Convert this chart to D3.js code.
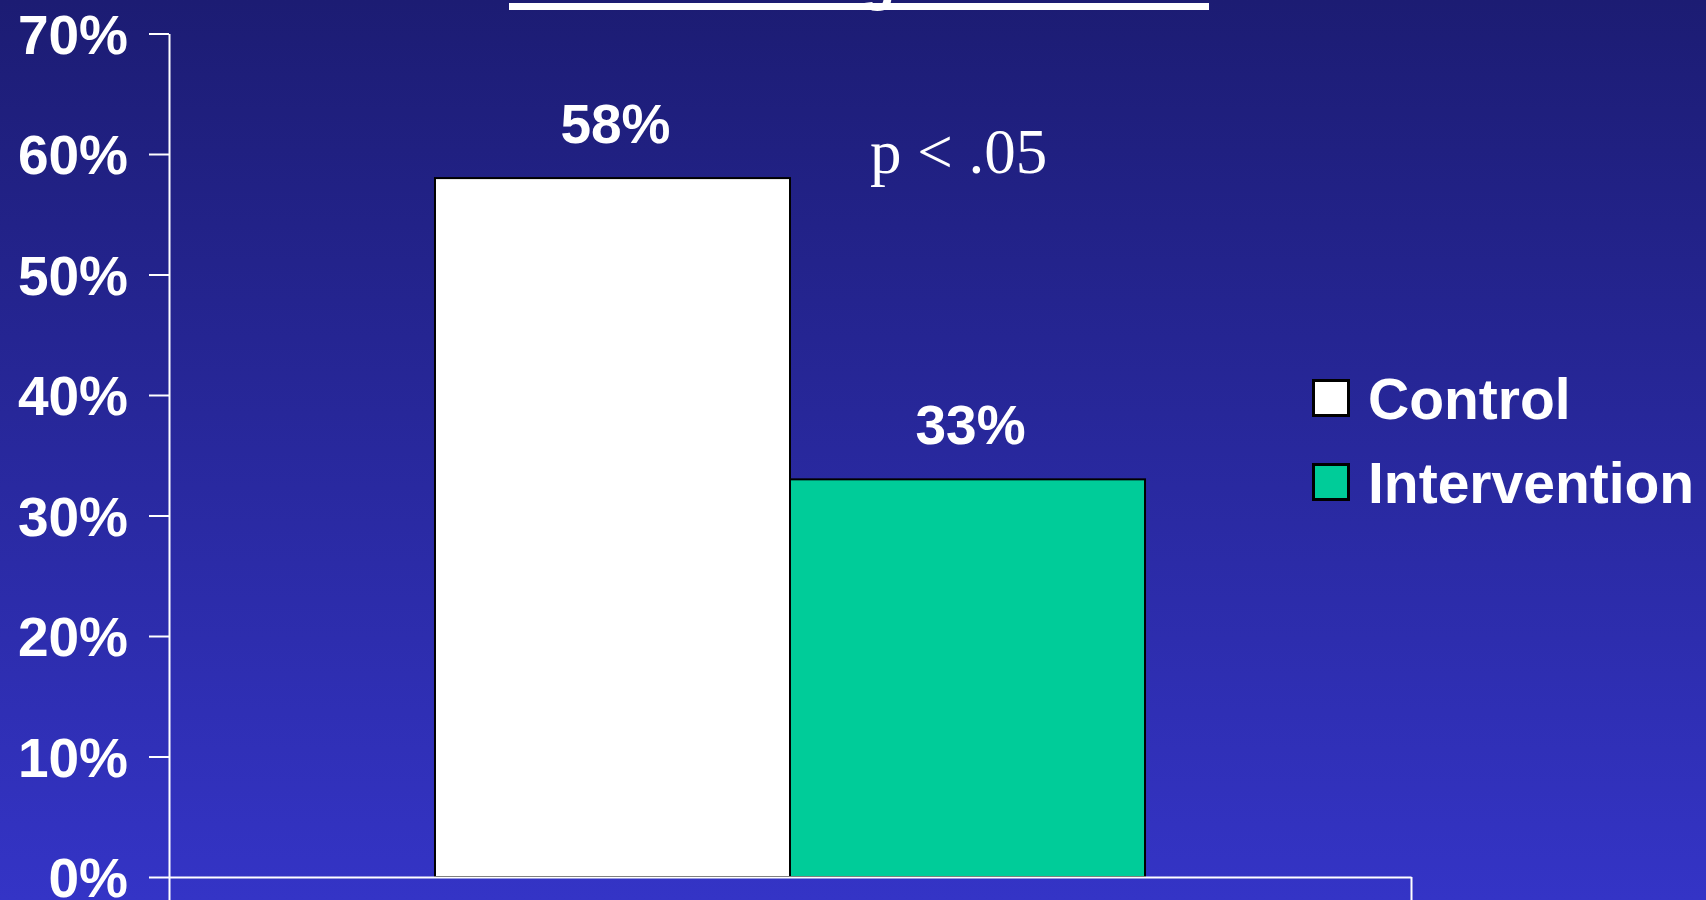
<!DOCTYPE html>
<html>
<head>
<meta charset="utf-8">
<script src="https://cdn.jsdelivr.net/npm/d3@7"></script>
<style>
  html, body { margin: 0; padding: 0; overflow: hidden; }
  svg { display: block; }
</style>
</head>
<body>
<svg id="chart" width="1706" height="900"></svg>
<script>
// ---- Data ----
const groups = ["Outcome"];
const seriesNames = ["Control", "Intervention"];
const seriesValues = [0.58, 0.33];
const seriesColors = ["#ffffff", "#00cc99"];
const tickValues = [0, 0.1, 0.2, 0.3, 0.4, 0.5, 0.6, 0.7];
const annotation = "p < .05";

(function () {
const svg = d3.select("#chart");
const W = 1706, H = 900;

// background gradient
const defs = svg.append("defs");
const grad = defs.append("linearGradient").attr("id", "bg")
  .attr("x1", 0).attr("y1", 0).attr("x2", 0).attr("y2", 1);
grad.append("stop").attr("offset", "0%").attr("stop-color", "#1c1c73");
grad.append("stop").attr("offset", "100%").attr("stop-color", "#3434c6");
svg.append("rect").attr("width", W).attr("height", H).attr("fill", "url(#bg)");

const boldFont = "'Liberation Sans', Arial, Helvetica, sans-serif";

// title (only the descender of its text reaches into the visible area) and its underline
svg.append("text").attr("x", 861).attr("y", -1)
  .attr("fill", "#fff").attr("font-family", boldFont).attr("font-weight", "bold").attr("font-size", 56)
  .text("g");
svg.append("rect").attr("x", 509).attr("y", 3).attr("width", 700).attr("height", 7).attr("fill", "#ffffff");

const plotLeft = 169, plotRight = 1411, plotTop = 33.5, plotBottom = 877;

const y = d3.scaleLinear().domain([0, 0.7]).range([plotBottom, plotTop]);
const x0 = d3.scaleBand().domain(groups).range([plotLeft, plotRight]).paddingOuter(0.3746).paddingInner(0);
const x1 = d3.scaleBand().domain(seriesNames).range([0, x0.bandwidth()]).padding(0);
const edge = d3.scaleLinear().domain([0, 1]).range([plotLeft, plotRight]);

// bars
const data = seriesNames.map((s, i) => ({ name: s, value: seriesValues[i], color: seriesColors[i], group: groups[0] }));
const g = svg.append("g");
g.selectAll("rect.bar").data(data).join("rect")
  .attr("class", "bar")
  .attr("x", d => x0(d.group) + x1(d.name))
  .attr("y", d => y(d.value))
  .attr("width", x1.bandwidth())
  .attr("height", d => y(0) - y(d.value))
  .attr("fill", d => d.color)
  .attr("stroke", "#000")
  .attr("stroke-width", 2);

// value labels
g.selectAll("text.val").data(data).join("text")
  .attr("class", "val")
  .attr("x", d => x0(d.group) + x1(d.name) + x1.bandwidth() / 2 + 3)
  .attr("y", d => y(d.value) - 35)
  .attr("text-anchor", "middle")
  .attr("fill", "#fff")
  .attr("font-family", boldFont)
  .attr("font-weight", "bold")
  .attr("font-size", 55)
  .text(d => d3.format(".0%")(d.value));

// y axis
const yAxis = svg.append("g").attr("transform", `translate(${plotLeft},0)`)
  .call(d3.axisLeft(y).tickValues(tickValues).tickFormat(d3.format(".0%")).tickSize(20).tickSizeOuter(0).tickPadding(21));
yAxis.select(".domain").attr("stroke", "#fff").attr("stroke-width", 2);
yAxis.selectAll(".tick line").attr("stroke", "#fff").attr("stroke-width", 2);
yAxis.selectAll(".tick text")
  .attr("fill", "#fff")
  .attr("font-family", boldFont)
  .attr("font-weight", "bold")
  .attr("font-size", 55)
  .attr("dy", "0.36em");

// x axis (category boundary ticks)
const xAxis = svg.append("g").attr("transform", `translate(0,${plotBottom})`)
  .call(d3.axisBottom(edge).tickValues([0, 1]).tickFormat("").tickSize(24).tickSizeOuter(0));
xAxis.select(".domain").attr("stroke", "#fff").attr("stroke-width", 2);
xAxis.selectAll(".tick line").attr("stroke", "#fff").attr("stroke-width", 2);

// annotation
svg.append("text")
  .attr("x", 870).attr("y", 173)
  .attr("fill", "#fff")
  .attr("font-family", "'Liberation Serif', 'Times New Roman', serif")
  .attr("font-size", 63)
  .text(annotation);

// legend
const legend = svg.append("g").attr("transform", "translate(1312,379)");
const li = legend.selectAll("g").data(data).join("g")
  .attr("transform", (d, i) => `translate(0,${i * 84})`);
li.append("rect").attr("x", 1.5).attr("y", 1.5).attr("width", 35).attr("height", 35)
  .attr("fill", d => d.color).attr("stroke", "#000").attr("stroke-width", 3);
li.append("text")
  .attr("x", 56).attr("y", 40)
  .attr("fill", "#fff")
  .attr("font-family", boldFont)
  .attr("font-weight", "bold")
  .attr("font-size", 57)
  .text(d => d.name);
})();
</script>
</body>
</html>
